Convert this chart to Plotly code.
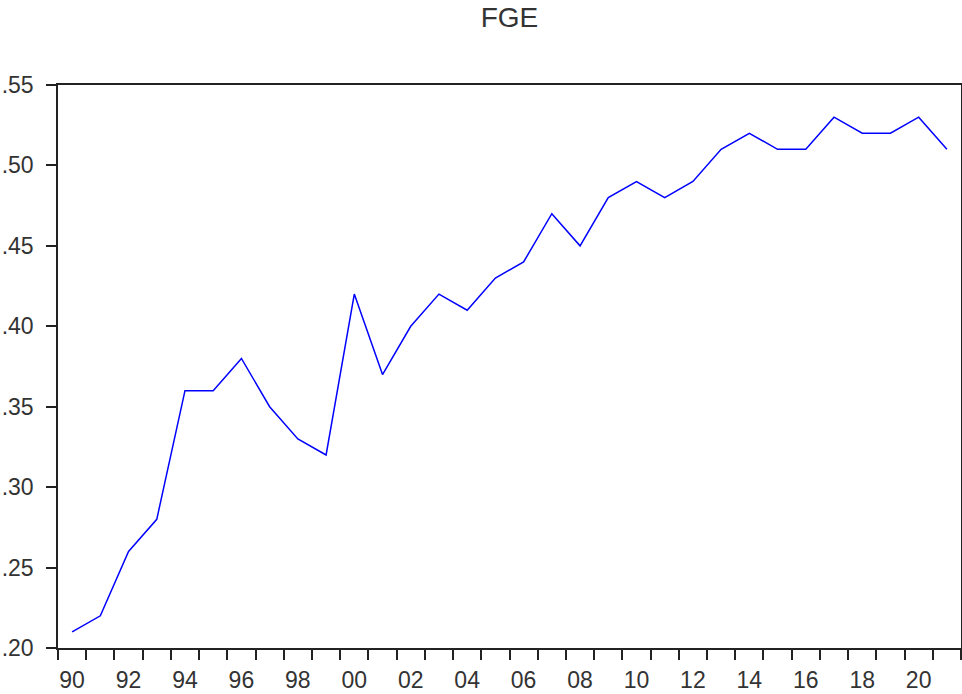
import plotly.graph_objects as go

years = list(range(1990, 2022))
fge = [0.21, 0.22, 0.26, 0.28, 0.36, 0.36, 0.38, 0.35, 0.33, 0.32,
       0.42, 0.37, 0.40, 0.42, 0.41, 0.43, 0.44, 0.47, 0.45, 0.48,
       0.49, 0.48, 0.49, 0.51, 0.52, 0.51, 0.51, 0.53, 0.52, 0.52,
       0.53, 0.51]
y_ticks = [0.20, 0.25, 0.30, 0.35, 0.40, 0.45, 0.50, 0.55]
y_labels = [".20", ".25", ".30", ".35", ".40", ".45", ".50", ".55"]
x_label_years = list(range(1990, 2022, 2))

font = "Liberation Sans, Arial, sans-serif"
txt = "#333333"

# EViews centres annual points in the middle of each period
fig = go.Figure(go.Scatter(
    x=[y + 0.5 for y in years], y=fge, mode="lines",
    line=dict(color="#0000ff", width=1.5), hoverinfo="x+y",
))

fig.update_layout(
    width=962, height=694,
    margin=dict(l=58, r=1, t=85, b=46),
    paper_bgcolor="white", plot_bgcolor="white",
    showlegend=False,
    title=dict(text="FGE", x=509.5 / 962, xanchor="center", y=1 - 17.5 / 694,
               yanchor="middle", font=dict(family=font, size=28, color=txt)),
)

fig.update_xaxes(
    range=[1990, 2022], automargin=False,
    tickvals=[y + 0.5 for y in x_label_years],
    ticktext=[f"{y % 100:02d}" for y in x_label_years],
    ticks="outside", ticklen=11, tickcolor="rgba(0,0,0,0)",
    tickfont=dict(family=font, size=23, color=txt),
    minor=dict(tickvals=list(range(1990, 2023)), ticks="outside",
               ticklen=10, tickcolor="#222222", tickwidth=1.5),
    showgrid=False, zeroline=False,
    showline=True, linecolor="#222222", linewidth=1.5, mirror=True,
)

fig.update_yaxes(
    range=[0.20, 0.55], automargin=False,
    tickvals=y_ticks, ticktext=y_labels,
    ticks="outside", ticklen=10, tickcolor="#222222", tickwidth=1.5,
    ticklabelstandoff=8,
    tickfont=dict(family=font, size=23, color=txt),
    showgrid=False, zeroline=False,
    showline=True, linecolor="#222222", linewidth=1.5, mirror=True,
)

# drop the page's default body margin so the figure fills the window
fig.write_html("out.html", config={"displayModeBar": False},
               post_script="document.body.style.margin='0';")
